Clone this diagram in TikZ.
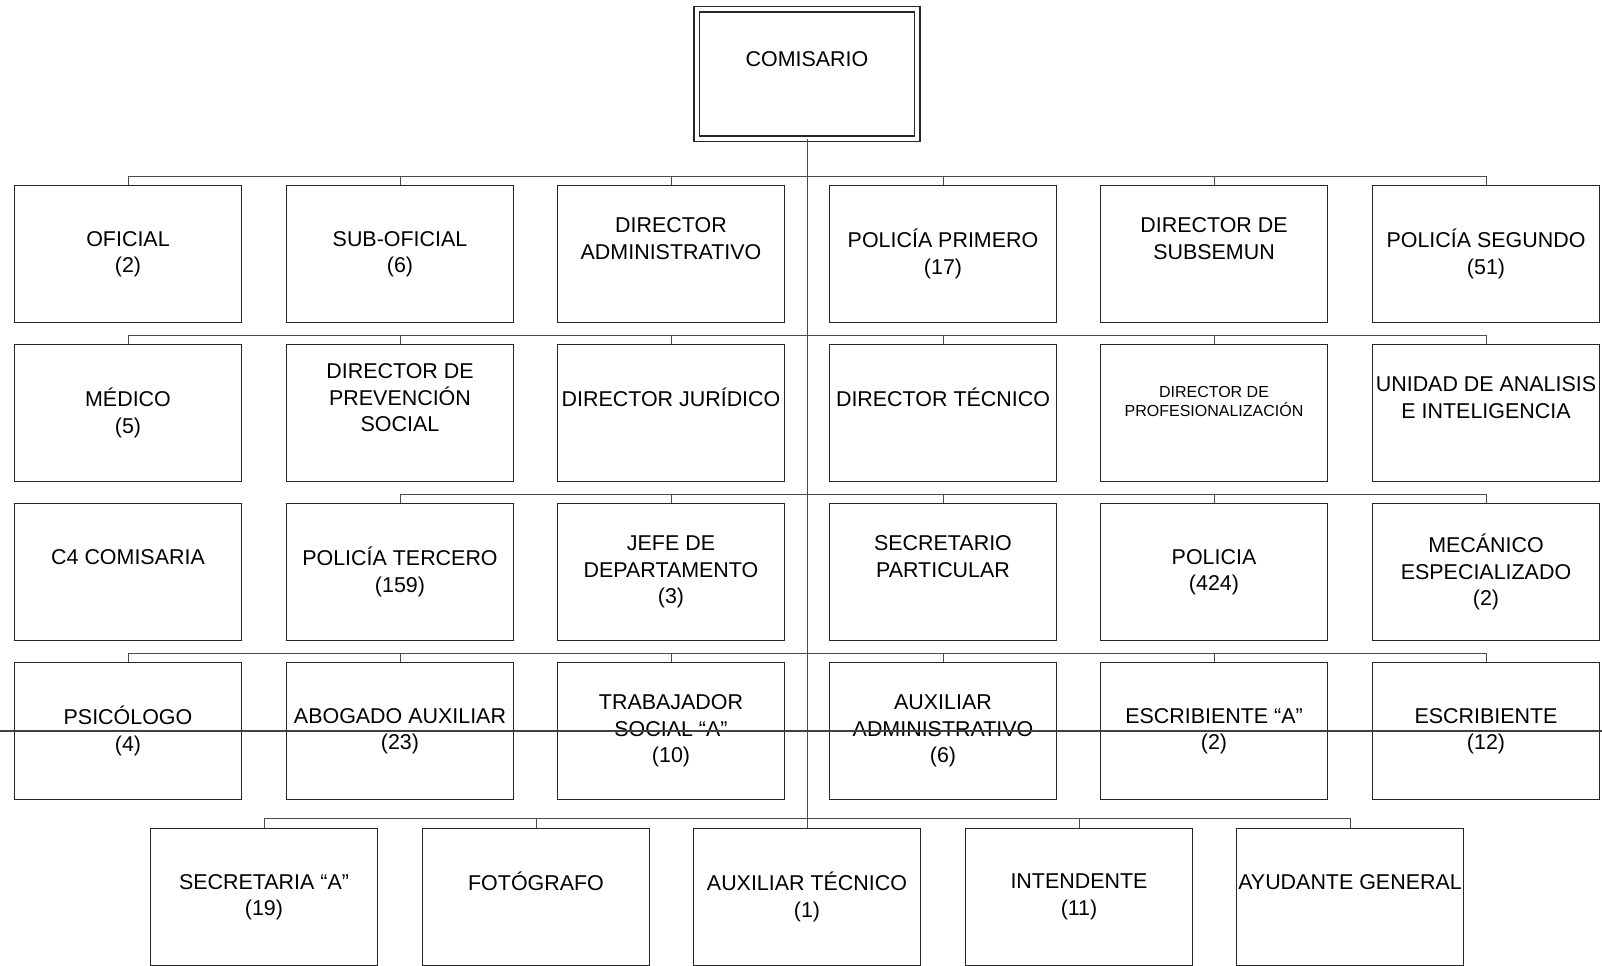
\documentclass[tikz,border=0pt]{standalone}
\usepackage{fontspec}
\setmainfont{Liberation Sans}
\newcommand{\sinnum}{\vphantom{(}}

\begin{document}
\begin{tikzpicture}[x=0.02cm, y=-0.02cm,
  puesto/.style={rectangle,draw=black!85,line width=0.9pt,
                 minimum width=4.54cm,minimum height=2.74cm,inner sep=1pt,
                 align=center,font=\fontsize{12.2}{15.1}\selectfont},
  jefe/.style={puesto,double=white,double distance=2.2pt,line width=0.8pt,
               minimum width=4.41cm,minimum height=2.59cm},
  chico/.style={puesto,font=\fontsize{9.1}{11}\selectfont},
  link/.style={draw=black!70,line width=0.5pt}
]
\useasboundingbox (0,0) rectangle (1602,965);

\node[jefe] (com) at (807,74) {COMISARIO\\\sinnum};

% primera fila
\node[puesto] (ofi)     at (128,254)  {OFICIAL\\(2)};
\node[puesto] (subofi)  at (400,254)  {SUB-OFICIAL\\(6)};
\node[puesto] (diradm)  at (671,254)  {DIRECTOR\\ADMINISTRATIVO\\\sinnum};
\node[puesto] (polprim) at (943,254)  {POLICÍA PRIMERO\\(17)};
\node[puesto] (dirsub)  at (1214,254) {DIRECTOR DE\\SUBSEMUN\\\sinnum};
\node[puesto] (polseg)  at (1486,254) {POLICÍA SEGUNDO\\(51)};

% segunda fila
\node[puesto] (medico)  at (128,413)  {MÉDICO\\(5)};
\node[puesto] (dirprev) at (400,413)  {DIRECTOR DE\\PREVENCIÓN\\SOCIAL\\\sinnum};
\node[puesto] (dirjur)  at (671,413)  {DIRECTOR JURÍDICO\\\sinnum};
\node[puesto] (dirtec)  at (943,413)  {DIRECTOR TÉCNICO\\\sinnum};
\node[chico]  (dirprof) at (1214,413) {DIRECTOR DE\\PROFESIONALIZACIÓN\\\sinnum};
\node[puesto] (unidad)  at (1486,413) {UNIDAD DE ANALISIS\\E INTELIGENCIA\\\sinnum};

% tercera fila
\node[puesto] (c4)      at (128,572)  {C4 COMISARIA\\\sinnum};
\node[puesto] (polter)  at (400,572)  {POLICÍA TERCERO\\(159)};
\node[puesto] (jefedep) at (671,572)  {JEFE DE\\DEPARTAMENTO\\(3)};
\node[puesto] (secpart) at (943,572)  {SECRETARIO\\PARTICULAR\\\sinnum};
\node[puesto] (policia) at (1214,572) {POLICIA\\(424)};
\node[puesto] (mecan)   at (1486,572) {MECÁNICO\\ESPECIALIZADO\\(2)};

% cuarta fila
\node[puesto] (psico)   at (128,731)  {PSICÓLOGO\\(4)};
\node[puesto] (abog)    at (400,731)  {ABOGADO AUXILIAR\\(23)};
\node[puesto] (trabsoc) at (671,731)  {TRABAJADOR\\SOCIAL “A”\\(10)};
\node[puesto] (auxadm)  at (943,731)  {AUXILIAR\\ADMINISTRATIVO\\(6)};
\node[puesto] (escra)   at (1214,731) {ESCRIBIENTE “A”\\(2)};
\node[puesto] (escr)    at (1486,731) {ESCRIBIENTE\\(12)};

% quinta fila
\node[puesto] (secra)   at (264,897)  {SECRETARIA “A”\\(19)};
\node[puesto] (foto)    at (536,897)  {FOTÓGRAFO\\\sinnum};
\node[puesto] (auxtec)  at (807,897)  {AUXILIAR TÉCNICO\\(1)};
\node[puesto] (intend)  at (1079,897) {INTENDENTE\\(11)};
\node[puesto] (ayud)    at (1350,897) {AYUDANTE GENERAL\\\sinnum};

% lineas de mando
\coordinate (b1) at (0,176);
\coordinate (b2) at (0,335);
\coordinate (b3) at (0,494);
\coordinate (b4) at (0,653);
\coordinate (b5) at (0,818);
\draw[link] (com.south) -- (auxtec.north);
\draw[link] (ofi.north) -- (ofi.north |- b1) -- (polseg.north |- b1) -- (polseg.north)
  (subofi.north) -- (subofi.north |- b1) (diradm.north) -- (diradm.north |- b1)
  (polprim.north) -- (polprim.north |- b1) (dirsub.north) -- (dirsub.north |- b1);
\draw[link] (medico.north) -- (medico.north |- b2) -- (unidad.north |- b2) -- (unidad.north)
  (dirprev.north) -- (dirprev.north |- b2) (dirjur.north) -- (dirjur.north |- b2)
  (dirtec.north) -- (dirtec.north |- b2) (dirprof.north) -- (dirprof.north |- b2);
\draw[link] (polter.north) -- (polter.north |- b3) -- (mecan.north |- b3) -- (mecan.north)
  (jefedep.north) -- (jefedep.north |- b3) (secpart.north) -- (secpart.north |- b3)
  (policia.north) -- (policia.north |- b3);
\draw[link] (psico.north) -- (psico.north |- b4) -- (escr.north |- b4) -- (escr.north)
  (abog.north) -- (abog.north |- b4) (trabsoc.north) -- (trabsoc.north |- b4)
  (auxadm.north) -- (auxadm.north |- b4) (escra.north) -- (escra.north |- b4);
\draw[link] (secra.north) -- (secra.north |- b5) -- (ayud.north |- b5) -- (ayud.north)
  (foto.north) -- (foto.north |- b5) (intend.north) -- (intend.north |- b5);

% raya horizontal del escaneo
\coordinate (rizq) at (0,731);
\coordinate (rder) at (1602,731);
\draw[black!75,line width=0.6pt] (rizq) -- (rder);
\end{tikzpicture}
\end{document}
